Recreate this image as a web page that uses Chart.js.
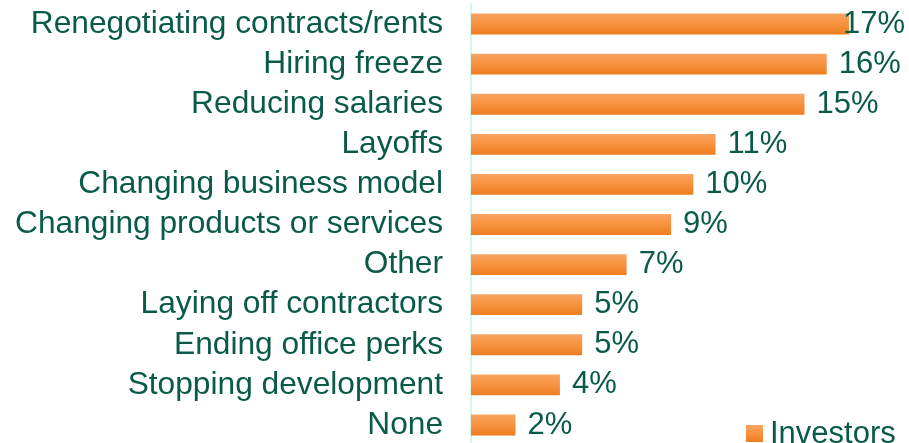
<!DOCTYPE html>
<html lang="en">
<head>
    <meta charset="UTF-8">
    <title>Cost-cutting measures</title>
    <script src="https://cdn.jsdelivr.net/npm/chart.js"></script>
    <style>
        html, body {
            margin: 0;
            padding: 0;
            background: #ffffff;
            overflow: hidden;
        }

        /* slightly taller than the window so the last bar runs to the edge */
        .chart-container {
            position: relative;
            width: 909px;
            height: 449px;
        }
    </style>
</head>
<body>

<div class="chart-container">
    <canvas id="measuresChart"></canvas>
</div>

<script>
    // Data
    const categories = [
        'Renegotiating contracts/rents',
        'Hiring freeze',
        'Reducing salaries',
        'Layoffs',
        'Changing business model',
        'Changing products or services',
        'Other',
        'Laying off contractors',
        'Ending office perks',
        'Stopping development',
        'None'
    ];
    const investors = [17, 16, 15, 11, 10, 9, 7, 5, 5, 4, 2];
    const seriesName = 'Investors';

    const textColor = '#0a5a4a';
    const fontFamily = "'Liberation Sans', Arial, sans-serif";
    const fontSize = 31;
    const categoryFontSize = 31.7;

    // orange gradient, lighter on top
    function orangeGradient(ctx, top, bottom) {
        const g = ctx.createLinearGradient(0, top, 0, bottom);
        g.addColorStop(0, '#f9a461');
        g.addColorStop(0.5, '#f7923f');
        g.addColorStop(1, '#ed7d20');
        return g;
    }

    function barFill(context) {
        const chart = context.chart;
        const yScale = chart.scales.y;
        if (!chart.chartArea || !yScale || context.dataIndex === undefined) {
            return '#f7923f';
        }
        const y = yScale.getPixelForValue(context.dataIndex);
        const step = (yScale.bottom - yScale.top) / categories.length;
        const half = step * 0.52 / 2;
        return orangeGradient(chart.ctx, y - half, y + half);
    }

    // value labels to the right of each bar
    const valueLabels = {
        id: 'valueLabels',
        afterDatasetsDraw(chart) {
            const ctx = chart.ctx;
            const meta = chart.getDatasetMeta(0);
            ctx.save();
            ctx.font = fontSize + 'px ' + fontFamily;
            ctx.fillStyle = textColor;
            ctx.textAlign = 'left';
            ctx.textBaseline = 'middle';
            meta.data.forEach((bar, i) => {
                const text = investors[i] + '%';
                const w = ctx.measureText(text).width;
                const x = Math.min(bar.x + 12, chart.width - 4 - w);
                ctx.fillText(text, x, bar.y);
            });
            ctx.restore();
        }
    };

    // series key in the lower right corner
    const cornerLegend = {
        id: 'cornerLegend',
        afterDraw(chart) {
            const ctx = chart.ctx;
            ctx.save();
            ctx.fillStyle = orangeGradient(ctx, 425, 442);
            ctx.fillRect(746, 425, 17, 17);
            ctx.font = fontSize + 'px ' + fontFamily;
            ctx.fillStyle = textColor;
            ctx.textAlign = 'left';
            ctx.textBaseline = 'alphabetic';
            ctx.fillText(chart.data.datasets[0].label, 770, 443);
            ctx.restore();
        }
    };

    const config = {
        type: 'bar',
        data: {
            labels: categories,
            datasets: [{
                label: seriesName,
                data: investors,
                backgroundColor: barFill,
                borderWidth: 0,
                categoryPercentage: 1,
                barPercentage: 0.52
            }]
        },
        options: {
            indexAxis: 'y',
            responsive: true,
            maintainAspectRatio: false,
            animation: false,
            layout: {
                padding: { top: 4, bottom: 4, left: 0, right: 0 }
            },
            plugins: {
                legend: { display: false },
                tooltip: { enabled: false }
            },
            scales: {
                x: {
                    display: false,
                    min: 0,
                    max: 19.7
                },
                y: {
                    grid: { display: false, drawTicks: false },
                    border: { display: true, color: '#d4f6f0', width: 2 },
                    ticks: {
                        autoSkip: false,
                        color: textColor,
                        padding: 28,
                        font: { family: fontFamily, size: categoryFontSize }
                    },
                    afterFit(scale) {
                        scale.width = 471;
                        scale.paddingTop = 0;
                        scale.paddingBottom = 0;
                    }
                }
            }
        },
        plugins: [valueLabels, cornerLegend]
    };

    const measuresChart = new Chart(document.getElementById('measuresChart'), config);
</script>

</body>
</html>
